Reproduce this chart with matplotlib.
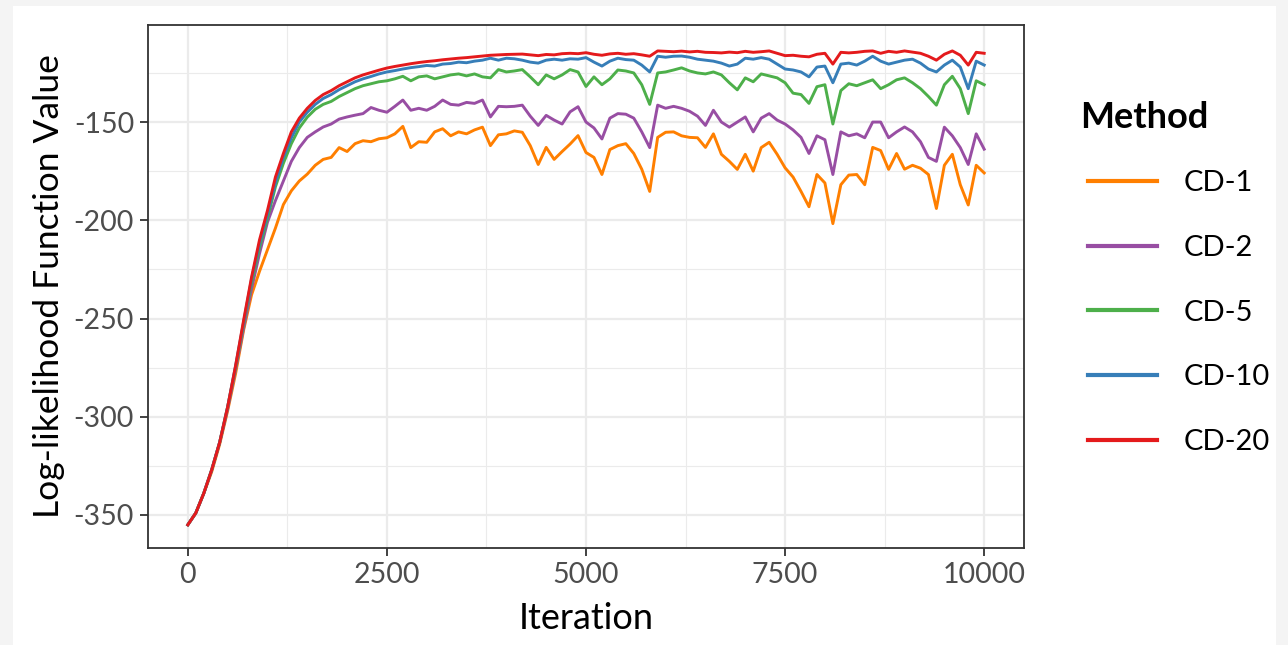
import numpy as np
import matplotlib.pyplot as plt
from matplotlib.patches import Rectangle

plt.rcParams['font.family'] = ['Lato', 'DejaVu Sans']
plt.rcParams['axes.unicode_minus'] = False

# iterations every 100 steps
iteration = np.arange(0, 10001, 100)

cd1 = [-355, -349, -339, -328, -314, -297, -278, -256, -238, -226,
       -215, -204, -192, -185, -180, -176.5, -172, -169, -168, -163,
       -165, -161, -159.5, -160, -158.5, -158, -156, -152.2, -163, -160,
       -160.3, -155, -153.4, -157, -155, -156, -154, -152.6, -162, -156.5,
       -156, -154.5, -155.2, -162, -171.6, -162.9, -169, -165, -161.2, -156.9,
       -165.5, -168, -176.7, -164, -162, -161, -166, -174, -185.3, -157.8,
       -155.2, -155, -157, -157.8, -158, -162.9, -156, -166.4, -170, -174.1,
       -166.4, -175, -163, -160.3, -166.4, -173.3, -178, -185.3, -193.1, -176.7,
       -181, -201.7, -181.9, -177, -176.7, -181.9, -162.9, -164.5, -174.1, -166,
       -174, -172, -173.5, -176.7, -194, -172, -166.4, -181.9, -192.2, -172,
       -175.9]

cd2 = [-355, -349, -339, -327, -313, -296, -276, -255, -235, -217,
       -201, -190, -180, -170, -163, -157.8, -155, -152.5, -151, -148.5,
       -147.4, -146.5, -145.7, -142.6, -144, -145, -142, -138.8, -144, -143,
       -144, -142, -138.8, -141, -141.4, -140, -140.5, -138.8, -147.4, -142,
       -142.2, -142, -141.4, -147, -151.7, -146.6, -149, -151, -144.8, -142.2,
       -150, -153, -158.6, -148, -145.7, -146, -148, -155, -163, -141.4,
       -143, -142, -143, -144.5, -147, -151.7, -144, -150, -152.6, -150,
       -147.4, -155, -148, -145.7, -149, -151, -154, -157.8, -166, -157,
       -159, -176.7, -155, -157, -156, -158, -150, -150, -158, -155,
       -152.5, -155, -160, -168, -170, -152.6, -157, -163, -171.6, -156,
       -163.8]

cd5 = [-355, -349, -339, -327, -313, -295, -275, -253, -232, -214,
       -199, -183, -171, -161, -153, -147.5, -143.5, -141, -139.5, -137,
       -135, -133, -131.5, -130.5, -129.5, -129, -128, -126.7, -129, -127,
       -126.5, -128, -127, -126, -125.5, -126.5, -125.5, -127, -127.5, -123.3,
       -124.5, -124, -123.3, -127, -131, -126, -128, -126, -123.3, -124.5,
       -131.9, -127, -131, -128, -123.5, -124, -125, -131, -141, -125,
       -124.5, -123.5, -122.4, -124, -125, -125.5, -124.5, -126, -130, -133.6,
       -127.5, -129.5, -125.5, -126.5, -127.5, -130, -135.3, -136, -140.5, -132,
       -131, -151, -134, -130.5, -131.5, -130, -128.5, -133, -131, -128.5,
       -127.5, -130, -133, -137, -141.4, -131, -126.7, -133, -145.7, -129,
       -131]

cd10 = [-355, -349, -339, -327, -313, -295, -274, -252, -230, -212,
        -197, -181, -168, -158, -150, -145, -141, -138, -136, -133.5,
        -131.5, -129.5, -128, -126.8, -125.5, -124.5, -123.8, -123, -122.3, -121.8,
        -121.2, -121.5, -120.5, -120.2, -119.5, -119.8, -119, -118.5, -117.5, -118.5,
        -117.5, -117.8, -118.5, -119.5, -120, -118.5, -118, -118.5, -117.8, -118,
        -117.2, -119.5, -121.5, -119, -117.5, -118.2, -118.5, -121, -124.5, -116.5,
        -117, -116.5, -116.4, -117, -118, -118.5, -119, -120, -121.5, -120.5,
        -117.5, -118, -117.2, -118, -120.5, -123, -123.5, -124.5, -127, -122,
        -121.5, -130, -120.5, -120, -121, -119, -116.5, -119, -120.5, -119.5,
        -118.5, -118, -120, -123, -124.5, -121, -118.5, -122, -133, -119,
        -121]

cd20 = [-355, -349, -339, -327, -313, -295, -274, -251, -229, -210,
        -195, -178, -166, -155, -148, -143, -139, -136, -134, -131.5,
        -129.5, -127.5, -126, -124.8, -123.6, -122.5, -121.7, -121, -120.3, -119.7,
        -119.2, -118.8, -118.3, -117.9, -117.5, -117.2, -116.8, -116.4, -116, -115.8,
        -115.6, -115.5, -115.4, -115.8, -116.2, -115.6, -115.8, -115.2, -115, -115.2,
        -114.7, -115.5, -116, -115.3, -115, -115.5, -115.2, -115.8, -116.5, -113.8,
        -114, -114.2, -113.9, -114.3, -114, -114.5, -114.6, -114.8, -114.4, -114.7,
        -114, -114.5, -114.2, -113.8, -115, -116.2, -116, -116.5, -116.8, -115.5,
        -115, -120.5, -114.5, -114.8, -114.5, -114, -113.8, -115, -114, -114.5,
        -113.8, -114.4, -115, -116.5, -118.5, -115.5, -113.8, -116, -121, -114.5,
        -115]

methods = ['CD-1', 'CD-2', 'CD-5', 'CD-10', 'CD-20']
colors = ['#FF7F00', '#984EA3', '#4DAF4A', '#377EB8', '#E41A1C']
series = [cd1, cd2, cd5, cd10, cd20]

W, H = 1288, 645
fig = plt.figure(figsize=(W / 100, H / 100), dpi=100, facecolor='#f4f4f4')
# white card behind the plot
fig.add_artist(Rectangle((13 / W, 0), (1276 - 13) / W, 1 - 6 / H,
                         transform=fig.transFigure, facecolor='white',
                         edgecolor='none', zorder=-10))

ax = fig.add_axes([148 / W, 1 - 548 / H, (1024 - 148) / W, (548 - 25) / H])
ax.set_zorder(1)
ax.set_facecolor('white')

for vals, name, col in zip(series, methods, colors):
    ax.plot(iteration, vals, color=col, lw=2.1, label=name, zorder=3)

ax.set_xlim(-500, 10500)
ax.set_ylim(-366.8, -100.6)
ax.set_xticks([0, 2500, 5000, 7500, 10000])
ax.set_xticks([1250, 3750, 6250, 8750], minor=True)
ax.set_yticks([-350, -300, -250, -200, -150])
ax.set_yticks([-325, -275, -225, -175, -125], minor=True)
ax.grid(which='major', color='#ebebeb', lw=1.6, zorder=0)
ax.grid(which='minor', color='#ebebeb', lw=0.8, zorder=0)
ax.set_axisbelow(True)

for s in ax.spines.values():
    s.set_color('#333333')
    s.set_linewidth(1.3)

ax.tick_params(which='major', length=6, width=1.3, color='#333333',
               labelsize=20.5, labelcolor='#4d4d4d', pad=4)
ax.tick_params(which='minor', length=0)

ax.set_xlabel('Iteration', fontsize=26, color='black', labelpad=10)
ax.set_ylabel('Log-likelihood Function Value', fontsize=25.5, color='black', labelpad=6)

fig.text(1080 / W, 1 - 118 / H, 'Method', fontsize=26, fontweight='bold',
         ha='left', va='center')
leg = ax.legend(loc='center left', bbox_to_anchor=(1088 / W, 1 - 312.5 / H),
                bbox_transform=fig.transFigure, frameon=False, fontsize=21,
                handlelength=2.37, handletextpad=0.92, labelspacing=1.33,
                borderpad=0, borderaxespad=0)
for line in leg.get_lines():
    line.set_linewidth(3)

fig.savefig('out.png', dpi=100, facecolor=fig.get_facecolor())
